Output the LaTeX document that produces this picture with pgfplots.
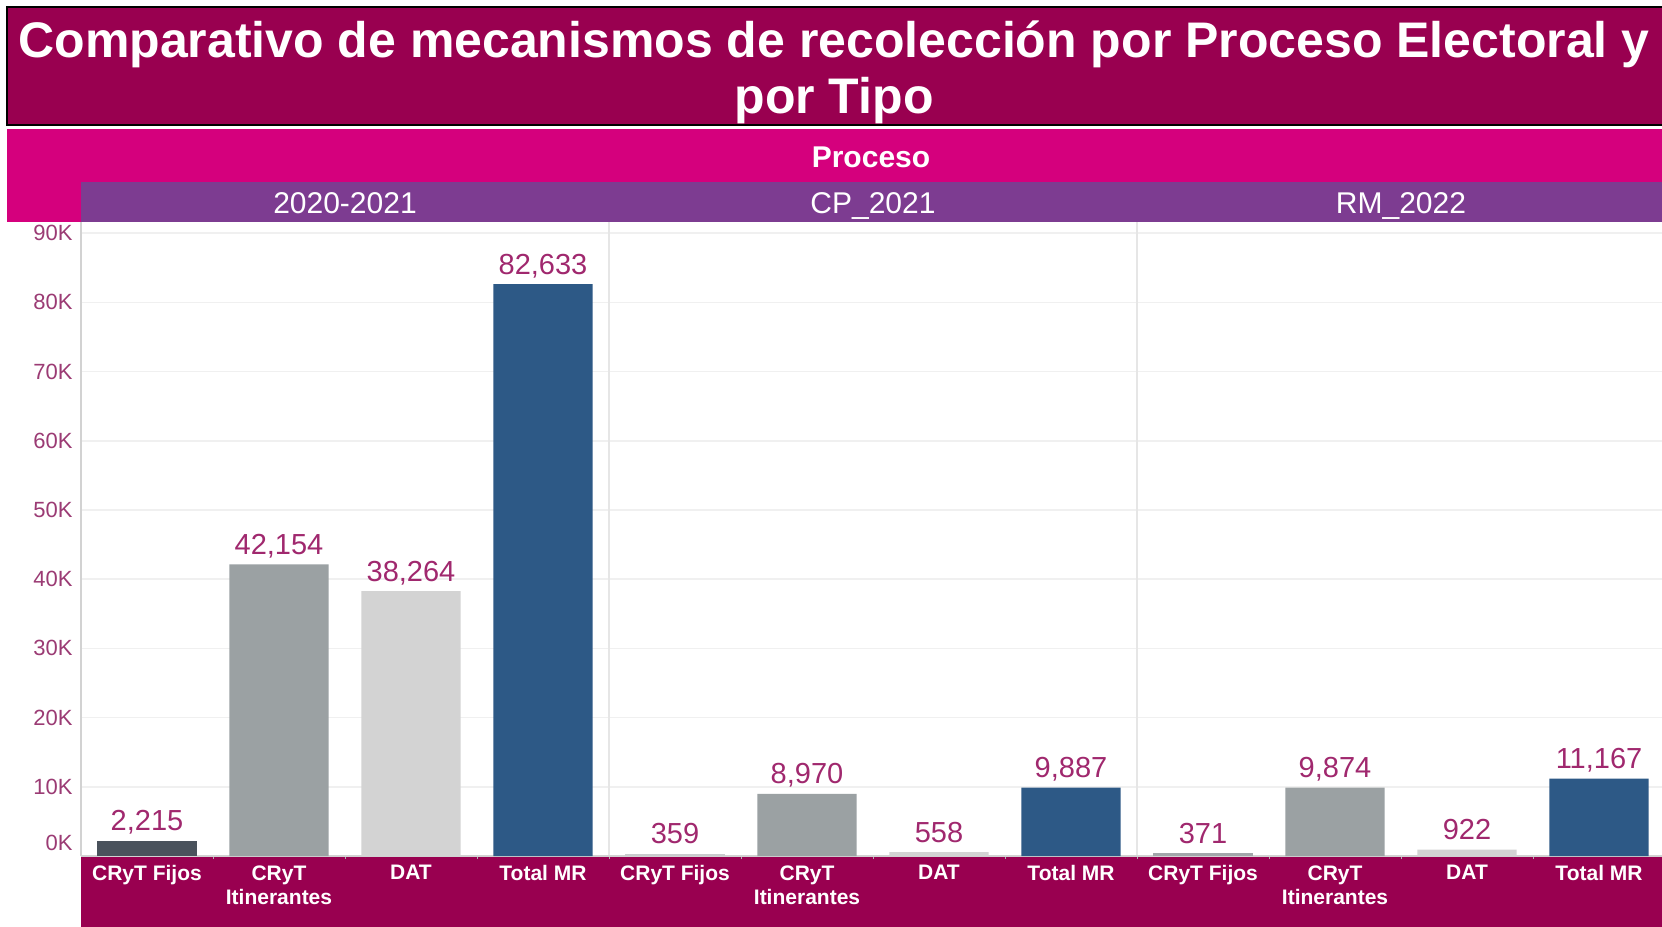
\documentclass[border=0pt]{standalone}
\usepackage{pgfplots}
\pgfplotsset{compat=1.18}
\usepackage{pgfplotstable}
\usepackage{fontspec}
\setmainfont{Liberation Sans}
\definecolor{maroon}{HTML}{990050}
\definecolor{pinkband}{HTML}{D5007D}
\definecolor{purpband}{HTML}{7D3C91}
\definecolor{labc}{HTML}{A0286E}
\definecolor{tickc}{HTML}{9B3B74}
\definecolor{cFijos}{HTML}{4A525C}
\definecolor{cFijosB}{HTML}{C9CBCD}
\definecolor{cFijosC}{HTML}{A2A6AA}
\definecolor{cItin}{HTML}{9BA1A3}
\definecolor{cDat}{HTML}{D3D3D3}
\definecolor{cTot}{HTML}{2D5986}
\definecolor{gridc}{HTML}{F0F0F0}
\definecolor{sepc}{HTML}{E6E6E6}

\pgfplotstableread{
x y lab
0 2215 2,215
}\fijosA
\pgfplotstableread{
x y lab
4 359 359
}\fijosB
\pgfplotstableread{
x y lab
8 371 371
}\fijosC
\pgfplotstableread{
x y lab
1 42154 42,154
5 8970 8,970
9 9874 9,874
}\itin
\pgfplotstableread{
x y lab
2 38264 38,264
6 558 558
10 922 922
}\dat
\pgfplotstableread{
x y lab
3 82633 82,633
7 9887 9,887
11 11167 11,167
}\tot

\begin{document}
\begin{tikzpicture}
\begin{scope}[x=0.5pt,y=-0.5pt]
\fill[white] (0,0) rectangle (1662,927);
\filldraw[fill=maroon, draw=black, line width=1pt] (6.7,7.3) rectangle (1690,125);
\node[anchor=base, inner sep=0pt, text=white, font=\fontsize{25}{28}\selectfont\bfseries] at (834,57) {Comparativo de mecanismos de recolección por Proceso Electoral y};
\node[anchor=base, inner sep=0pt, text=white, font=\fontsize{25}{28}\selectfont\bfseries] at (834,113) {por Tipo};
\fill[pinkband] (6.7,129.3) rectangle (1690,222);
\fill[purpband] (81,182.3) rectangle (1690,221.7);
\node[anchor=center, inner sep=0pt, text=white, font=\fontsize{15}{18}\selectfont\bfseries] at (871,157) {Proceso};
\node[anchor=base, inner sep=0pt, text=white, font=\fontsize{15}{18}\selectfont] at (345,213) {2020-2021};
\node[anchor=base, inner sep=0pt, text=white, font=\fontsize{15}{18}\selectfont] at (873,213) {CP\_2021};
\node[anchor=base, inner sep=0pt, text=white, font=\fontsize{15}{18}\selectfont] at (1401,213) {RM\_2022};
\fill[maroon] (81,856.5) rectangle (1690,940);
\end{scope}
\begin{axis}[
  at={(40.5pt,-428pt)}, anchor=south west,
  scale only axis, width=790.5pt, height=317pt,
  xmin=-0.5, xmax=11.477, ymin=0, ymax=91620,
  ybar, bar width=0.753, bar shift=0pt,
  axis line style={draw=none},
  scaled y ticks=false,
  xtick={0,...,11},
  xticklabels={CRyT Fijos,{CRyT\\Itinerantes},DAT,Total MR,CRyT Fijos,{CRyT\\Itinerantes},DAT,Total MR,CRyT Fijos,{CRyT\\Itinerantes},DAT,Total MR},
  xticklabel style={anchor=north, inner sep=0pt, yshift=-4.5pt, align=center, font=\fontsize{10.5}{12}\selectfont\bfseries, text=white},
  minor xtick={0.5,1.5,...,10.5},
  xtick pos=left, ytick pos=left,
  major tick length=0pt, minor tick length=1.5pt, tick align=outside,
  minor x tick style={draw=gray!60, line width=0.5pt},
  ytick={10000,20000,30000,40000,50000,60000,70000,80000,90000},
  yticklabels={10K,20K,30K,40K,50K,60K,70K,80K,90K},
  extra y ticks={0}, extra y tick labels={0K},
  extra y tick style={yticklabel style={yshift=6.5pt}, major grid style={draw=none}},
  yticklabel style={anchor=east, inner sep=0pt, xshift=-4pt, font=\fontsize{11}{13}\selectfont, text=tickc},
  ymajorgrids, major grid style={draw=gridc, line width=0.75pt},
  nodes near coords, point meta=explicit symbolic,
  nodes near coords style={anchor=base, inner sep=0pt, yshift=5pt, font=\fontsize{14.5}{16}\selectfont, text=labc},
  clip=false,
]
\draw[sepc, line width=1pt] (axis cs:3.5,0) -- (axis cs:3.5,91620);
\draw[sepc, line width=1pt] (axis cs:7.5,0) -- (axis cs:7.5,91620);
\draw[gray!35, line width=1pt] (axis cs:-0.5,0) -- (axis cs:-0.5,91620);
\draw[gray!35, line width=0.75pt] (axis cs:-0.5,0) -- (axis cs:11.477,0);
\addplot[fill=cFijos, draw=none] table[x=x,y=y,meta=lab]{\fijosA};
\addplot[fill=cFijosB, draw=none] table[x=x,y=y,meta=lab]{\fijosB};
\addplot[fill=cFijosC, draw=none] table[x=x,y=y,meta=lab]{\fijosC};
\addplot[fill=cItin, draw=none] table[x=x,y=y,meta=lab]{\itin};
\addplot[fill=cDat, draw=none] table[x=x,y=y,meta=lab]{\dat};
\addplot[fill=cTot, draw=none] table[x=x,y=y,meta=lab]{\tot};
\end{axis}
\pgfresetboundingbox
\path[use as bounding box, x=0.5pt, y=-0.5pt] (0,0) rectangle (1662,927);
\end{tikzpicture}
\end{document}
